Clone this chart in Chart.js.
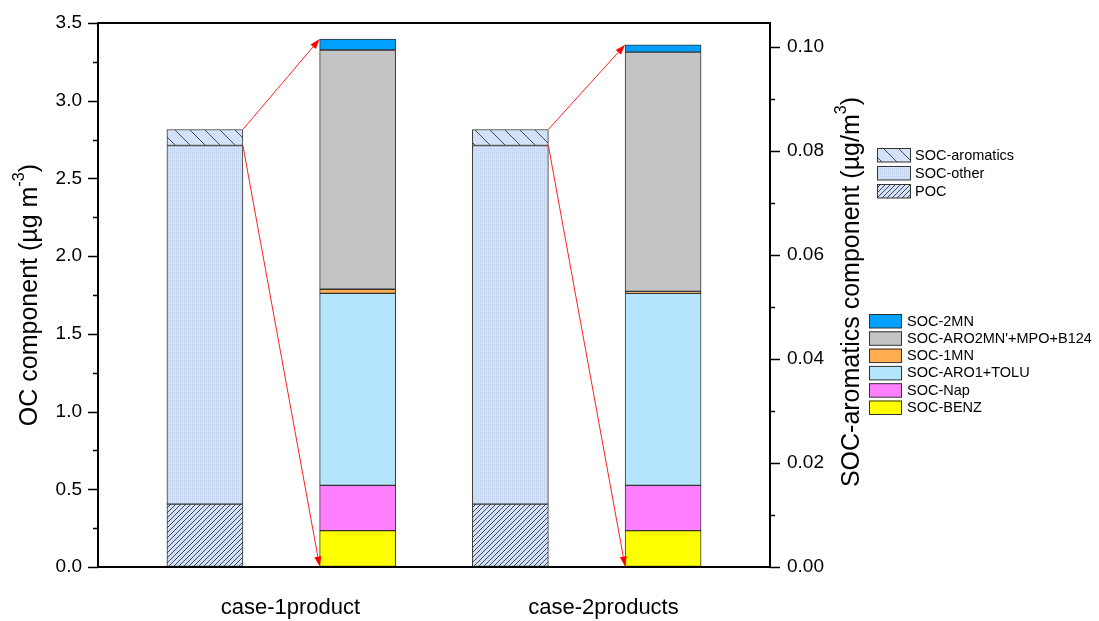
<!DOCTYPE html>
<html>
<head>
<meta charset="utf-8">
<script src="https://cdn.jsdelivr.net/npm/chart.js@4.4.1/dist/chart.umd.min.js"></script>
<style>
  html, body { margin: 0; background: #fff; }
  canvas { display: block; }
</style>
</head>
<body>
<canvas id="chart" width="1099" height="621"></canvas>
<script>
const categories = ['case-1product', 'case-2products'];

// left axis: OC component (ug m-3)
const pocValues = [0.405, 0.405];
const socOtherValues = [2.307, 2.307];
const socAromaticsValues = [0.103, 0.103];

// right axis: SOC-aromatics component (ug/m3)
const benzValues = [0.0070, 0.0070];
const napValues = [0.0087, 0.0087];
const aro1TolValues = [0.0369, 0.0369];
const mn1Values = [0.0008, 0.0004];
const aro2Values = [0.0460, 0.0460];
const mn2Values = [0.0021, 0.0014];

const leftTicks = [0, 0.5, 1.0, 1.5, 2.0, 2.5, 3.0, 3.5];
const rightTicks = [0, 0.02, 0.04, 0.06, 0.08, 0.10];

// bar slots on the x axis
const ocX = [0.7, 2.7];
const aroX = [1.7, 3.7];
const labelX = [1.26, 3.31];

const FONT = "'Liberation Sans', Arial, sans-serif";
const canvas = document.getElementById('chart');
const ctx = canvas.getContext('2d');

function hatch(bg, line, size, dir) {
  const c = document.createElement('canvas');
  c.width = c.height = size;
  const g = c.getContext('2d');
  g.fillStyle = bg;
  g.fillRect(0, 0, size, size);
  g.strokeStyle = line;
  g.lineWidth = 1;
  g.beginPath();
  if (dir === '/') {
    g.moveTo(0, size); g.lineTo(size, 0);
    g.moveTo(-1, 1); g.lineTo(1, -1);
    g.moveTo(size - 1, size + 1); g.lineTo(size + 1, size - 1);
  } else {
    g.moveTo(0, 0); g.lineTo(size, size);
    g.moveTo(-1, size - 1); g.lineTo(1, size + 1);
    g.moveTo(size - 1, -1); g.lineTo(size + 1, 1);
  }
  g.stroke();
  return ctx.createPattern(c, 'repeat');
}

function dots(bg, dot) {
  const c = document.createElement('canvas');
  c.width = c.height = 2;
  const g = c.getContext('2d');
  g.fillStyle = bg;
  g.fillRect(0, 0, 2, 2);
  g.fillStyle = dot;
  g.fillRect(0, 0, 1, 1);
  return ctx.createPattern(c, 'repeat');
}

const pocFill = hatch('#d4e2f7', '#3c4658', 5, '/');
const otherFill = dots('#d3e2f8', '#bdd0ee');
const aroFill = hatch('#d4e2f7', '#3c4658', 15, '\\');

const toPts = (vals, xs) => vals.map((v, i) => ({ x: xs[i], y: v }));

const BORDER = '#333333';
const base = { borderColor: BORDER, borderWidth: 1, barThickness: 76, borderSkipped: false };

const datasets = [
  { ...base, label: 'POC', data: toPts(pocValues, ocX), backgroundColor: pocFill, yAxisID: 'y' },
  { ...base, label: 'SOC-other', data: toPts(socOtherValues, ocX), backgroundColor: otherFill, yAxisID: 'y' },
  { ...base, label: 'SOC-aromatics', data: toPts(socAromaticsValues, ocX), backgroundColor: aroFill, yAxisID: 'y' },
  { ...base, label: 'SOC-BENZ', data: toPts(benzValues, aroX), backgroundColor: '#ffff00', yAxisID: 'y2' },
  { ...base, label: 'SOC-Nap', data: toPts(napValues, aroX), backgroundColor: '#ff80ff', yAxisID: 'y2' },
  { ...base, label: 'SOC-ARO1+TOLU', data: toPts(aro1TolValues, aroX), backgroundColor: '#b5e5fd', yAxisID: 'y2' },
  { ...base, label: 'SOC-1MN', data: toPts(mn1Values, aroX), backgroundColor: '#ffad4f', yAxisID: 'y2' },
  { ...base, label: "SOC-ARO2MN'+MPO+B124", data: toPts(aro2Values, aroX), backgroundColor: '#c4c4c4', yAxisID: 'y2' },
  { ...base, label: 'SOC-2MN', data: toPts(mn2Values, aroX), backgroundColor: '#00a0ff', yAxisID: 'y2' }
];

function arrow(c, x1, y1, x2, y2) {
  const a = Math.atan2(y2 - y1, x2 - x1);
  const L = 10, W = 3.5;
  const bx = x2 - L * Math.cos(a), by = y2 - L * Math.sin(a);
  c.beginPath();
  c.moveTo(x1, y1);
  c.lineTo(bx, by);
  c.stroke();
  c.beginPath();
  c.moveTo(x2, y2);
  c.lineTo(bx + W * Math.sin(a), by - W * Math.cos(a));
  c.lineTo(bx - W * Math.sin(a), by + W * Math.cos(a));
  c.closePath();
  c.fill();
}

// rotated title with superscript parts
function rotatedTitle(c, parts, cx, cy, size) {
  c.save();
  c.translate(cx, cy);
  c.rotate(-Math.PI / 2);
  c.fillStyle = '#000';
  c.textBaseline = 'middle';
  c.textAlign = 'left';
  let total = 0;
  parts.forEach(p => {
    c.font = (p.sup ? size * 0.65 : size) + 'px ' + FONT;
    p.w = c.measureText(p.t).width;
    total += p.w;
  });
  let x = -total / 2;
  parts.forEach(p => {
    c.font = (p.sup ? size * 0.65 : size) + 'px ' + FONT;
    c.fillText(p.t, x, p.sup ? -size * 0.4 : 0);
    x += p.w;
  });
  c.restore();
}

const decor = {
  id: 'decor',
  afterDatasetsDraw(chart) {
    const c = chart.ctx;
    const { left, right, top, bottom } = chart.chartArea;
    const y = chart.scales.y, y2 = chart.scales.y2;

    // arrows from the SOC-aromatics segment to the breakdown bar
    c.save();
    c.strokeStyle = '#ff2020';
    c.fillStyle = '#ff0000';
    c.lineWidth = 1;
    for (let i = 0; i < categories.length; i++) {
      const src = chart.getDatasetMeta(2).data[i].getProps(['x', 'y', 'base', 'width'], true);
      const topEl = chart.getDatasetMeta(8).data[i].getProps(['x', 'y', 'width'], true);
      const botEl = chart.getDatasetMeta(3).data[i].getProps(['x', 'base', 'width'], true);
      const sx = src.x + src.width / 2;
      arrow(c, sx, src.y, topEl.x - topEl.width / 2, topEl.y);
      arrow(c, sx, src.base, botEl.x - botEl.width / 2, botEl.base);
    }
    c.restore();

    // frame
    c.save();
    c.strokeStyle = '#000';
    c.lineWidth = 2;
    c.strokeRect(left, top, right - left, bottom - top);

    // ticks
    c.lineWidth = 1.5;
    c.beginPath();
    for (let v = 0; v <= 3.5001; v += 0.25) {
      const py = Math.round(y.getPixelForValue(v)) + 0.5;
      const len = Math.abs(v / 0.5 - Math.round(v / 0.5)) < 1e-6 ? 10 : 5;
      c.moveTo(left - len, py); c.lineTo(left, py);
    }
    for (let v = 0; v <= 0.1001; v += 0.01) {
      const py = Math.round(y2.getPixelForValue(v)) + 0.5;
      const len = Math.abs(v / 0.02 - Math.round(v / 0.02)) < 1e-6 ? 10 : 5;
      c.moveTo(right, py); c.lineTo(right + len, py);
    }
    c.stroke();
    c.restore();
  },
  afterDraw(chart) {
    const c = chart.ctx;
    rotatedTitle(c, [{ t: 'OC component (\u00b5g m' }, { t: '-3', sup: true }, { t: ')' }], 30, 295, 25);
    rotatedTitle(c, [{ t: 'SOC-aromatics component (\u00b5g/m' }, { t: '3', sup: true }, { t: ')' }], 852, 292, 25);

    // legends
    const ds = chart.data.datasets;
    c.save();
    c.strokeStyle = '#333';
    c.lineWidth = 1;
    c.textBaseline = 'middle';
    c.textAlign = 'left';
    const leg1 = [2, 1, 0];
    leg1.forEach((k, j) => {
      const by = 148 + j * 18;
      c.fillStyle = ds[k].backgroundColor;
      c.fillRect(877, by, 34, 14);
      c.strokeRect(877.5, by + 0.5, 33, 13.5);
      c.fillStyle = '#000';
      c.font = '14.5px ' + FONT;
      c.fillText(ds[k].label, 915, by + 7.5);
    });
    const leg2 = [8, 7, 6, 5, 4, 3];
    leg2.forEach((k, j) => {
      const by = 314 + j * 17.3;
      c.fillStyle = ds[k].backgroundColor;
      c.fillRect(869, by, 33, 14);
      c.strokeRect(869.5, by + 0.5, 32, 13.5);
      c.fillStyle = '#000';
      c.font = '14.5px ' + FONT;
      c.fillText(ds[k].label, 907, by + 7.5);
    });
    c.restore();
  }
};

// tick marks are drawn by the plugin; the invisible grid ticks only space the labels
const hiddenGrid = len => ({ display: true, drawOnChartArea: false, drawTicks: true, tickLength: len, tickColor: 'rgba(0,0,0,0)' });

new Chart(ctx, {
  type: 'bar',
  data: { datasets },
  options: {
    responsive: false,
    animation: false,
    layout: { padding: { top: 23, left: 0, right: 0, bottom: 0 } },
    plugins: { legend: { display: false }, tooltip: { enabled: false } },
    scales: {
      x: {
        type: 'linear',
        min: 0,
        max: 4.4,
        offset: false,
        stacked: true,
        grid: { display: false, offset: false, drawTicks: false },
        border: { display: false },
        afterBuildTicks: s => { s.ticks = labelX.map(v => ({ value: v })); },
        afterFit: s => { s.height = 54; },
        ticks: {
          autoSkip: false,
          maxRotation: 0,
          padding: 28,
          color: '#000',
          font: { family: FONT, size: 22 },
          callback: (v, i) => categories[i]
        }
      },
      y: {
        position: 'left',
        min: 0,
        max: 3.5,
        stacked: true,
        grid: hiddenGrid(16),
        border: { display: false },
        afterBuildTicks: s => { s.ticks = leftTicks.map(v => ({ value: v })); },
        afterFit: s => { s.width = 98; },
        ticks: {
          padding: 0,
          color: '#000',
          font: { family: FONT, size: 19 },
          callback: v => v.toFixed(1)
        }
      },
      y2: {
        position: 'right',
        min: 0,
        max: 0.1046,
        stacked: true,
        grid: hiddenGrid(17),
        border: { display: false },
        afterBuildTicks: s => { s.ticks = rightTicks.map(v => ({ value: v })); },
        afterFit: s => { s.width = 329; },
        ticks: {
          padding: 0,
          color: '#000',
          font: { family: FONT, size: 19 },
          callback: v => v.toFixed(2)
        }
      }
    }
  },
  plugins: [decor]
});
</script>
</body>
</html>
